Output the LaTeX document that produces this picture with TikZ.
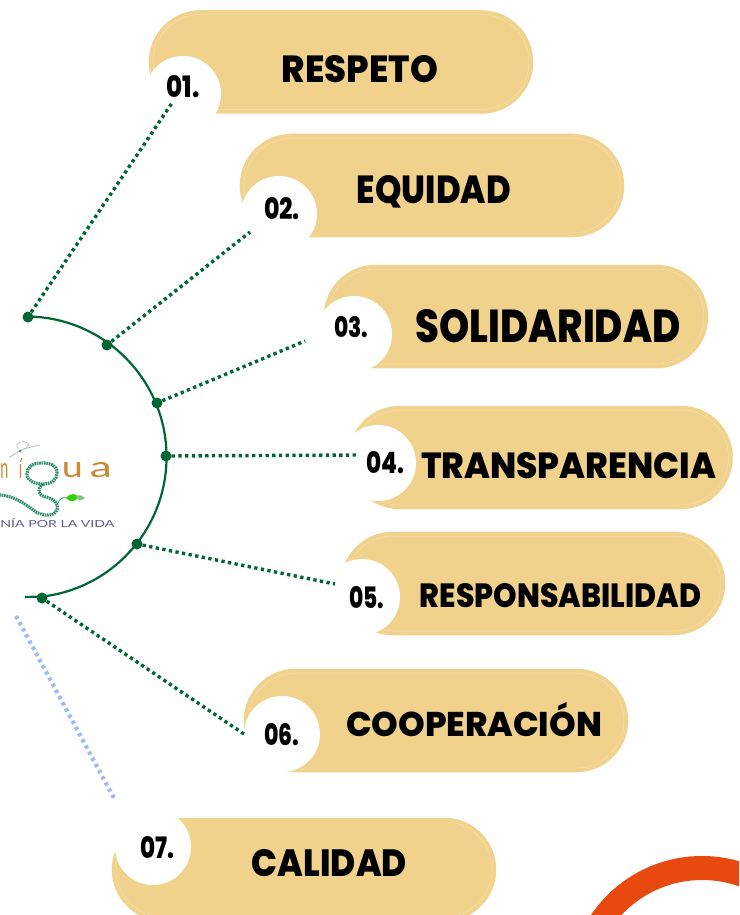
\documentclass[tikz,border=0pt]{standalone}
\usepackage{fontspec}
\setmainfont{Poppins}[BoldFont=* ExtraBold]
\newfontfamily\logofont{Lato}
\definecolor{gold}{HTML}{F0D28C}
\definecolor{pale}{HTML}{F5E0B0}
\definecolor{leafgreen}{HTML}{006633}
\definecolor{skyblue}{HTML}{9DBCF5}
\definecolor{flame}{HTML}{E8490F}
\definecolor{logopurple}{HTML}{5F5C92}
\definecolor{logoorange}{HTML}{C98A3A}
\definecolor{logogreen}{HTML}{2F8F6B}
\newcommand{\fitted}[3]{\resizebox{#1pt}{#2pt}{\bfseries #3}}
\tikzset{
  x=1pt,y=-1pt,
  pill/.style={rectangle,rounded corners=47.5pt,minimum width=376pt,minimum height=95pt,inner sep=0pt,
    fill=gold,draw=pale,line width=.5pt,preaction={draw=gold,line width=8.5pt}},
  badge/.style={circle,fill=white,minimum size=76pt,inner sep=0pt},
  caption/.style={inner sep=0pt,text=black},
  num/.style={inner sep=0pt,text=black},
  dotnode/.style={circle,fill=leafgreen,minimum size=11pt,inner sep=0pt},
  stem/.style={draw=leafgreen,line width=3.4pt,dash pattern=on 3.3pt off 3.4pt},
  bluestem/.style={draw=skyblue,line width=4.2pt,dash pattern=on 3.4pt off 3.6pt},
  curve/.style={draw=leafgreen,line width=2.2pt},
  bead/.style={draw=logogreen,line width=3.2pt,dash pattern=on 1.6pt off .8pt}
}
\begin{document}
\begin{tikzpicture}
\useasboundingbox (0,0) rectangle (739,915);
\clip (0,0) rectangle (739,915);
\fill[white] (0,0) rectangle (739,915);
% orange ring
\draw[flame,line width=24pt] (702,990) circle[radius=122];
% pills
\node[pill] (p1) at (341,62) {};
\node[pill] (p2) at (432,185.5) {};
\node[pill] (p3) at (516,316.5) {};
\node[pill] (p4) at (540.5,457.5) {};
\node[pill] (p5) at (533,583.5) {};
\node[pill] (p6) at (436,720.5) {};
\node[pill] (p7) at (304,869.5) {};
% badges
\node[badge] (b1) at (183,94) {};
\node[badge] (b2) at (279,214) {};
\node[badge] (b3) at (354,334) {};
\node[badge] (b4) at (378,463) {};
\node[badge] (b5) at (362,597) {};
\node[badge] (b6) at (282,734) {};
\node[badge] (b7) at (153,847) {};
% numbers
\node[num] (n1) at (183,87) {\fitted{33}{22}{01.}};
\node[num] (n2) at (282,209) {\fitted{36}{22}{02.}};
\node[num] (n3) at (351,327) {\fitted{34}{21}{03.}};
\node[num] (n4) at (385,463) {\fitted{38}{22}{04.}};
\node[num] (n5) at (367,598) {\fitted{35}{22}{05.}};
\node[num] (n6) at (282,735) {\fitted{35}{22}{06.}};
\node[num] (n7) at (157,848) {\fitted{34}{22}{07.}};
% captions
\node[caption] (t1) at (360,69) {\fitted{156}{27}{RESPETO}};
\node[caption] (t2) at (434,191.5) {\fitted{154}{28}{EQUIDAD}};
\node[caption] (t3) at (548,326) {\fitted{265}{33}{SOLIDARIDAD}};
\node[caption] (t4) at (568.5,465.5) {\fitted{295}{26}{TRANSPARENCIA}};
\node[caption] (t5) at (560.5,595.5) {\fitted{281}{24}{RESPONSABILIDAD}};
\node[caption] (t6) at (474,720) {\fitted{256}{34}{COOPERACIÓN}};
\node[caption] (t7) at (329.5,863) {\fitted{155}{27}{CALIDAD}};
% arc
\coordinate (arcend) at (25,597);
\draw[curve] (28,316.5) arc[start angle=-89.2,end angle=83.5,radius=140.5] -- (arcend);
% dots
\node[dotnode] (d1) at (28,317) {};
\node[dotnode] (d2) at (107,345) {};
\node[dotnode] (d3) at (157,403) {};
\node[dotnode] (d4) at (166,456) {};
\node[dotnode] (d5) at (137,544) {};
\node[dotnode] (d6) at (42,598) {};
% stem ends
\coordinate (e1) at (172,103);
\coordinate (e2) at (250,232);
\coordinate (e3) at (305,341);
\coordinate (e4) at (358,455);
\coordinate (e5) at (335,584);
\coordinate (e6) at (244,734);
\coordinate (e7a) at (16,616);
\coordinate (e7b) at (115,800);
\draw[stem] (d1) -- (e1);
\draw[stem] (d2) -- (e2);
\draw[stem] (d3) -- (e3);
\draw[stem] (d4) -- (e4);
\draw[stem] (d5) -- (e5);
\draw[stem] (d6) -- (e6);
\draw[bluestem] (e7a) -- (e7b);
% logo
\node[inner sep=0pt,text=logoorange] (logoU) at (72.5,470.5) {\resizebox{21pt}{15pt}{\logofont u}};
\node[inner sep=0pt,text=logoorange] (logoW) at (101,470.5) {\resizebox{22pt}{15pt}{\logofont a}};
\node[inner sep=0pt,text=logoorange,anchor=west] (logoB) at (0.2,470.5) {\resizebox{8pt}{15pt}{\logofont n}};
\node[inner sep=0pt,text=logoorange] (logoI) at (20.5,468) {\resizebox{3.5pt}{20pt}{\logofont í}};
\node[inner sep=0pt,text=logopurple,anchor=west] (logoC) at (0.2,523) {\resizebox{114pt}{9pt}{\logofont NÍA POR LA VIDA}};
\draw[bead] (57,473) .. controls (57,465) and (50,463) .. (42,463) .. controls (31,463) and (27,468) .. (27,474) .. controls (27,481) and (35,484) .. (43,484) .. controls (52,484) and (57,479) .. (57,473);
\draw[bead] (43,484) .. controls (36,490) and (38,495) .. (46,497) .. controls (54,499) and (59,503) .. (57,510) .. controls (54,517) and (44,516) .. (36,512) .. controls (26,505) and (16,496) .. (0,495);
\draw[logogreen,line width=.7pt] (58,503) .. controls (60,498) and (63,497) .. (67,498);
\fill[green!65!olive] (66,498) .. controls (70,493) and (76,493) .. (78,497) .. controls (76,502) and (70,503) .. (66,498);
\fill[green!40!gray!70] (76,497) .. controls (78,494) and (82,495) .. (85,498) .. controls (82,501) and (78,501) .. (76,497);
\draw[gray!60,line width=.7pt] (9,457) .. controls (13,456) and (17,452) .. (19,451) .. controls (24,449) and (30,447) .. (40,445);
\draw[gray!50,line width=.7pt] (18,449) .. controls (13,442) and (24,440) .. (28,443) .. controls (30,446) and (26,449) .. (21,450);
\fill[logogreen] (20,451) circle[radius=1.3];
\end{tikzpicture}
\end{document}
